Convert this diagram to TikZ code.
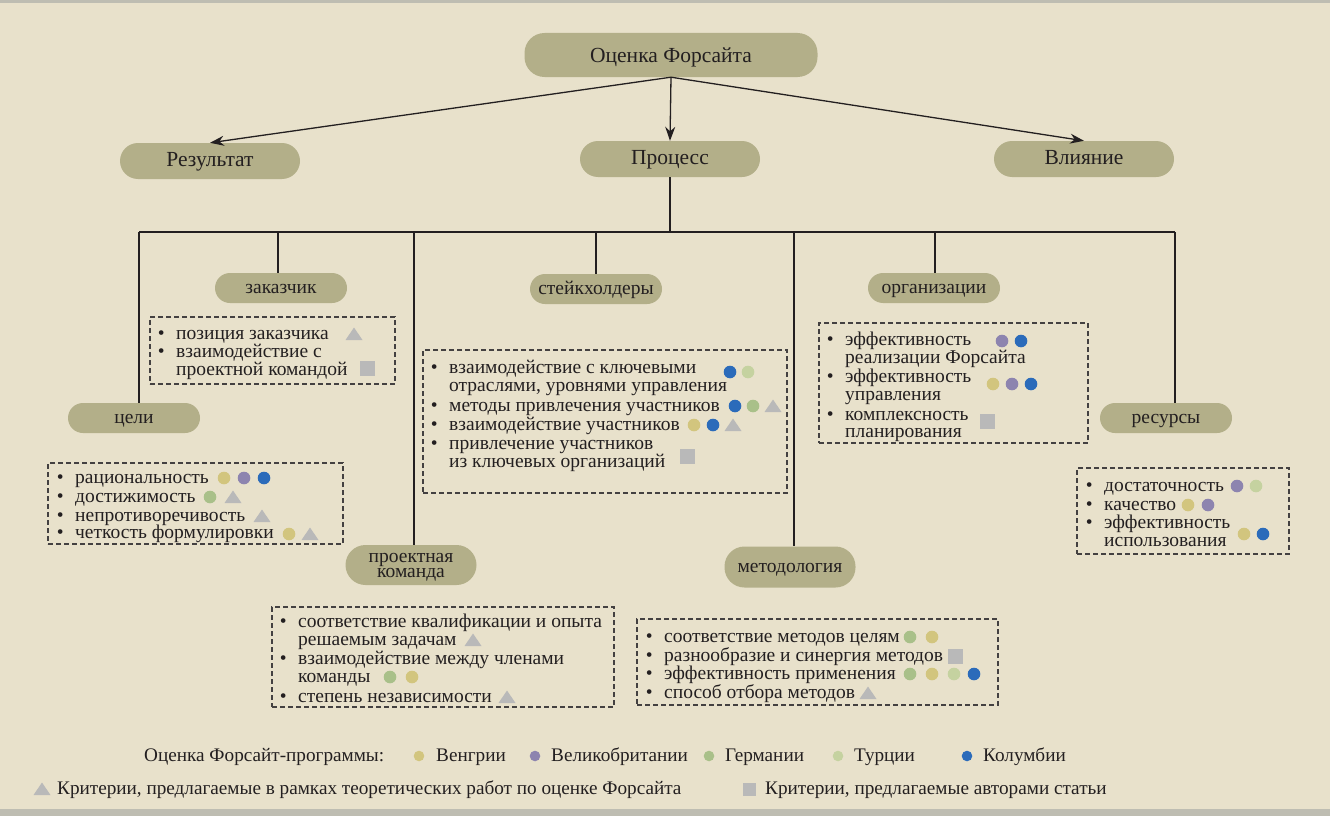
\documentclass[tikz,border=0pt]{standalone}
\usepackage{fontspec}
\setmainfont{Liberation Serif}
\usetikzlibrary{arrows.meta,calc}
\definecolor{bg}{HTML}{E8E1CB}
\definecolor{bar}{HTML}{BEBDB2}
\definecolor{nodefill}{HTML}{B3AF89}
\definecolor{ink}{HTML}{231F20}
\definecolor{hun}{HTML}{D2C57E}
\definecolor{gbr}{HTML}{8D84AF}
\definecolor{ger}{HTML}{A9C089}
\definecolor{tur}{HTML}{C5D2A0}
\definecolor{col}{HTML}{2B6BBA}
\definecolor{crit}{HTML}{B9B9B9}
\newcommand\mkc[3]{\fill[#1] (#2,#3) circle[radius=6.3pt];}
\newcommand\mkl[3]{\fill[#1] (#2,#3) circle[radius=5.3pt];}
\newcommand\mktri[2]{\fill[crit] ($(#1,#2)+(-8.5,6)$) -- ++(17,0) -- ++(-8.5,-12.5) -- cycle;}
\newcommand\mksq[3]{\fill[crit] ($(#1,#2)+(-#3/2,-#3/2)$) rectangle ++(#3,#3);}
\newcommand\bl{\makebox[18.4pt][l]{•}}
\begin{document}
\begin{tikzpicture}[x=1pt,y=-1pt,
  conn/.style={draw=ink,line width=1.3pt},
  arr/.style={conn,-{Stealth[length=14pt,width=10pt]}},
  pill/.style={fill=nodefill,inner sep=0pt,text=ink,align=center},
  toppill/.style={pill,minimum width=293pt,minimum height=44pt,rounded corners=20pt,font=\fontsize{21.5}{22}\selectfont,text height=17pt,text depth=2pt},
  midpill/.style={pill,minimum width=180pt,minimum height=36pt,rounded corners=18pt,font=\fontsize{21.5}{22}\selectfont,text height=14pt,text depth=2.6pt},
  smallpill/.style={pill,minimum width=132pt,minimum height=30pt,rounded corners=15pt,font=\fontsize{19.5}{15}\selectfont,text height=12pt,text depth=2pt},
  plab/.style={inner sep=0pt,anchor=base,text=ink,font=\fontsize{19.5}{15}\selectfont},
  dbox/.style={draw=ink!85,line width=1.2pt,dash pattern=on 5pt off 3pt,inner sep=0pt},
  txt/.style={inner sep=0pt,anchor=base west,text=ink,font=\fontsize{19.5}{18}\selectfont},
  lg/.style={inner sep=0pt,anchor=base west,text=ink,font=\fontsize{19.2}{20}\selectfont}]
\fill[bg] (0,0) rectangle (1330,816);
\useasboundingbox (0,0) rectangle (1330,816);
\fill[bar] (0,0) rectangle (1330,3);
\fill[bar] (0,809) rectangle (1330,816);

% top level
\node[toppill] (top) at (671,55) {Оценка Форсайта};
\node[midpill] (res) at (210,161) {Результат};
\node[midpill] (proc) at (670,159) {Процесс};
\node[midpill] (infl) at (1084,159) {Влияние};
\draw[arr] (top.south) -- (res.north);
\draw[arr] (top.south) -- (proc.north);
\draw[arr] (top.south) -- (infl.north);

% level 3 nodes
\node[smallpill] (zak) at (281,288) {заказчик};
\node[smallpill] (goal) at (134,418) {цели};
\node[smallpill] (stk) at (596,289) {стейкхолдеры};
\node[smallpill] (org) at (934,288) {организации};
\node[smallpill] (resr) at (1166,418) {ресурсы};
\node[smallpill,minimum width=131pt,minimum height=40pt,rounded corners=20pt] (team) at (411,565) {};
\node[plab] (teama) at (411,562.5) {проектная};
\node[plab] (teamb) at (411,577.5) {команда};
\node[smallpill,minimum width=131pt,minimum height=41pt,rounded corners=20pt] (meth) at (790,567) {методология};

% tree connectors
\coordinate (bl) at (139,232);
\coordinate (br) at (1175,232);
\draw[conn] (proc.south) -- (proc.south |- bl);
\draw[conn] (bl) -- (br);
\coordinate (c1) at (139,232);
\coordinate (c2) at (278,232);
\coordinate (c3) at (414,232);
\coordinate (c4) at (596,232);
\coordinate (c5) at (794,232);
\coordinate (c6) at (935,232);
\coordinate (c7) at (1175,232);
\draw[conn] (c1) -- (c1 |- goal.north);
\draw[conn] (c2) -- (c2 |- zak.north);
\draw[conn] (c3) -- (c3 |- team.north);
\draw[conn] (c4) -- (c4 |- stk.north);
\draw[conn] (c5) -- (c5 |- meth.north);
\draw[conn] (c6) -- (c6 |- org.north);
\draw[conn] (c7) -- (c7 |- resr.north);

% dashed boxes
\node[dbox,minimum width=245pt,minimum height=67pt] (zbox) at (272.5,350.5) {};
\node[dbox,minimum width=295pt,minimum height=81pt] (gbox) at (195.5,503.5) {};
\node[dbox,minimum width=364pt,minimum height=143pt] (sbox) at (605,421.5) {};
\node[dbox,minimum width=269pt,minimum height=120pt] (obox) at (953.5,383) {};
\node[dbox,minimum width=212pt,minimum height=86pt] (rbox) at (1183,511) {};
\node[dbox,minimum width=342pt,minimum height=100pt] (tbox) at (443,657) {};
\node[dbox,minimum width=361pt,minimum height=86pt] (mbox) at (817.5,662) {};

% заказчик
\node[txt] (z1) at (157.6,339) {\bl позиция заказчика};
\node[txt] (z2) at (157.6,357) {\bl взаимодействие с};
\node[txt] (z3) at (176,375) {проектной командой};
\mktri{354}{334}
\mksq{367}{368}{15}

% цели
\node[txt] (g1) at (56.6,483) {\bl рациональность};
\node[txt] (g2) at (56.6,502) {\bl достижимость};
\node[txt] (g3) at (56.6,521) {\bl непротиворечивость};
\node[txt] (g4) at (56.6,538) {\bl четкость формулировки};
\mkc{hun}{224}{478}\mkc{gbr}{244}{478}\mkc{col}{264}{478}
\mkc{ger}{210}{497}\mktri{233}{497}
\mktri{262}{516}
\mkc{hun}{289}{534}\mktri{310}{534}

% стейкхолдеры
\node[txt] (s1) at (430.6,373) {\bl взаимодействие с ключевыми};
\node[txt] (s2) at (449,391) {отраслями, уровнями управления};
\node[txt] (s3) at (430.6,411) {\bl методы привлечения участников};
\node[txt] (s4) at (430.6,430) {\bl взаимодействие участников};
\node[txt] (s5) at (430.6,449) {\bl привлечение участников};
\node[txt] (s6) at (449,467) {из ключевых организаций};
\mkc{col}{730}{372}\mkc{tur}{748}{372}
\mkc{col}{735}{406}\mkc{ger}{753}{406}\mktri{773}{406}
\mkc{hun}{694}{425}\mkc{col}{713}{425}\mktri{733}{425}
\mksq{687}{456}{15}

% организации
\node[txt] (o1) at (826.6,345) {\bl эффективность};
\node[txt] (o2) at (845,363) {реализации Форсайта};
\node[txt] (o3) at (826.6,382) {\bl эффективность};
\node[txt] (o4) at (845,400) {управления};
\node[txt] (o5) at (826.6,420) {\bl комплексность};
\node[txt] (o6) at (845,437) {планирования};
\mkc{gbr}{1002}{341}\mkc{col}{1021}{341}
\mkc{hun}{993}{384}\mkc{gbr}{1012}{384}\mkc{col}{1031}{384}
\mksq{987}{421}{15}

% ресурсы
\node[txt] (r1) at (1085.6,491) {\bl достаточность};
\node[txt] (r2) at (1085.6,510) {\bl качество};
\node[txt] (r3) at (1085.6,528) {\bl эффективность};
\node[txt] (r4) at (1104,546) {использования};
\mkc{gbr}{1237}{486}\mkc{tur}{1256}{486}
\mkc{hun}{1188}{505}\mkc{gbr}{1208}{505}
\mkc{hun}{1244}{534}\mkc{col}{1263}{534}

% проектная команда
\node[txt] (t1) at (279.6,627) {\bl соответствие квалификации и опыта};
\node[txt] (t2) at (298,645) {решаемым задачам};
\node[txt] (t3) at (279.6,664) {\bl взаимодействие между членами};
\node[txt] (t4) at (298,682) {команды};
\node[txt] (t5) at (279.6,702) {\bl степень независимости};
\mktri{473}{640}
\mkc{ger}{390}{677}\mkc{hun}{412}{677}
\mktri{507}{697}

% методология
\node[txt] (m1) at (645.6,642) {\bl соответствие методов целям};
\node[txt] (m2) at (645.6,661) {\bl разнообразие и синергия методов};
\node[txt] (m3) at (645.6,679) {\bl эффективность применения};
\node[txt] (m4) at (645.6,698) {\bl способ отбора методов};
\mkc{ger}{910}{637}\mkc{hun}{932}{637}
\mksq{955}{656}{15}
\mkc{ger}{910}{674}\mkc{hun}{932}{674}\mkc{tur}{954}{674}\mkc{col}{974}{674}
\mktri{868}{693}

% legend
\node[lg] (lt) at (144,761) {Оценка Форсайт-программы:};
\mkl{hun}{419}{756}\node[lg] (l1) at (436,761) {Венгрии};
\mkl{gbr}{535}{756}\node[lg] (l2) at (551,761) {Великобритании};
\mkl{ger}{709}{756}\node[lg] (l3) at (725,761) {Германии};
\mkl{tur}{838}{756}\node[lg] (l4) at (854,761) {Турции};
\mkl{col}{967}{756}\node[lg] (l5) at (983,761) {Колумбии};
\mktri{42}{789}\node[lg] (l6) at (57,794) {Критерии, предлагаемые в рамках теоретических работ по оценке Форсайта};
\mksq{749}{789}{13}\node[lg] (l7) at (765,794) {Критерии, предлагаемые авторами статьи};
\end{tikzpicture}
\end{document}
